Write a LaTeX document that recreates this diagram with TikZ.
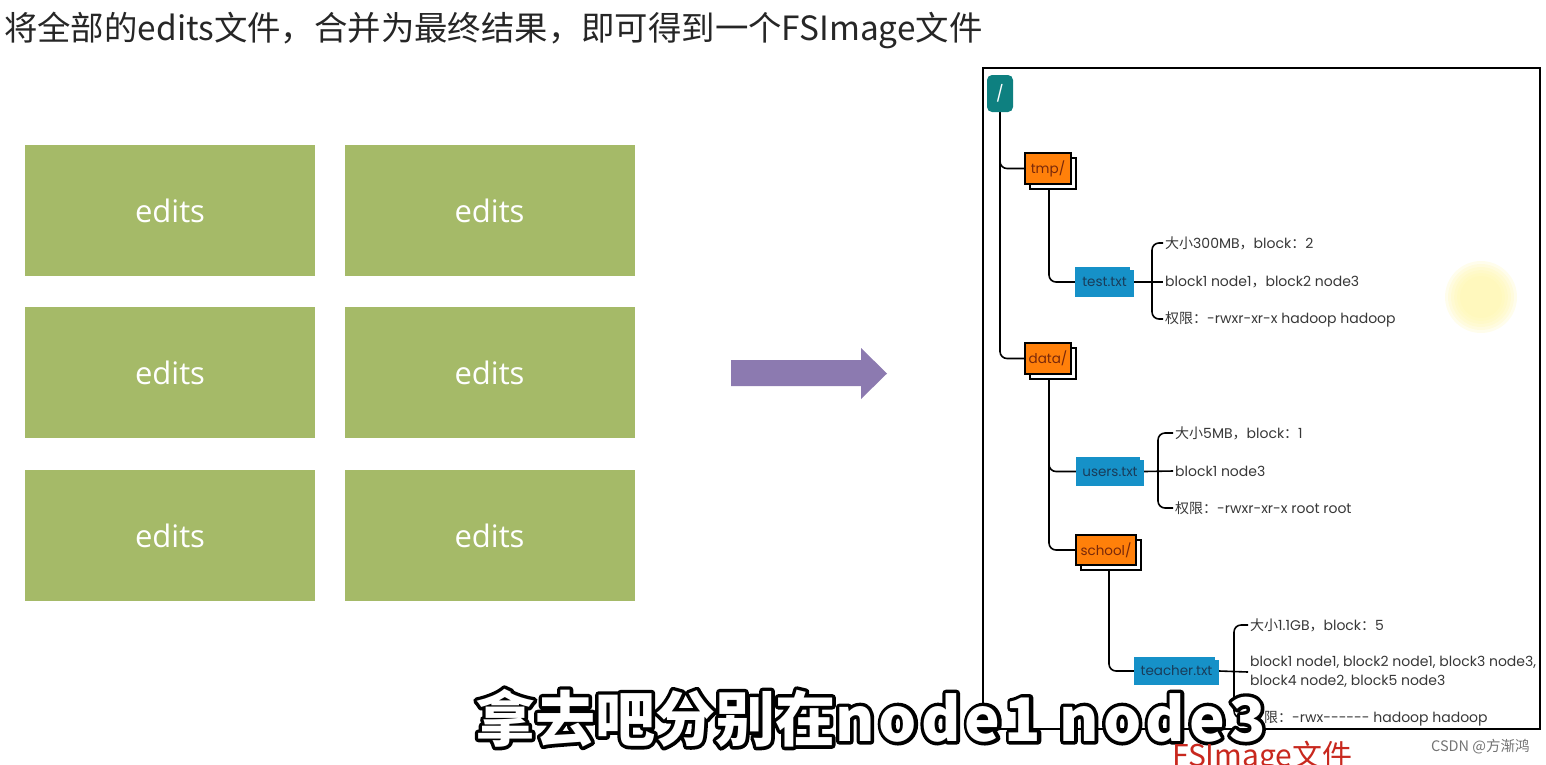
\documentclass[tikz,border=0pt]{standalone}
\usepackage{fontspec}
\usetikzlibrary{shadows,backgrounds}
\setmainfont{Noto Sans CJK SC}
\newfontfamily\cjk{Noto Sans CJK SC}
\newfontfamily\geo{Poppins}
\newfontfamily\osans{Open Sans}
\newcommand\zh[1]{{\cjk #1}}
\newcommand\strokeon{\special{pdf:literal direct 1 Tr 7 w 1 j 0 G}}
\newcommand\strokeoff{\special{pdf:literal direct 0 Tr}}
\newcommand\captext{{\cjk\bfseries\fontsize{60}{64}\selectfont 拿去吧分别在{\addfontfeature{LetterSpace=7}node1 node3}}}
\definecolor{editgreen}{RGB}{165,186,104}
\definecolor{arrowpurple}{RGB}{140,122,176}
\definecolor{folderorange}{RGB}{255,128,10}
\definecolor{foldertext}{RGB}{120,40,10}
\definecolor{fileblue}{RGB}{22,145,200}
\definecolor{filetext}{RGB}{25,60,90}
\definecolor{rootteal}{RGB}{14,128,128}
\definecolor{infotext}{RGB}{55,55,55}
\definecolor{fsred}{RGB}{200,40,30}
\definecolor{blobyellow}{RGB}{255,246,170}
\tikzset{
  editbox/.style={fill=editgreen, minimum width=290, minimum height=131, inner sep=0, text=white, font=\osans\fontsize{31}{36}\selectfont},
  tline/.style={line width=1.6pt, rounded corners=7pt},
  folder/.style={draw=black, line width=1.5pt, fill=folderorange, text=foldertext, inner xsep=2pt, inner ysep=0pt,
     font=\geo\fontsize{13.5}{15}\selectfont,
     copy shadow={shadow xshift=5pt, shadow yshift=-5pt, fill=white, draw=black, line width=1.5pt}},
  filebox/.style={fill=fileblue, text=filetext, inner xsep=2pt, inner ysep=0pt, font=\geo\fontsize{13.5}{15}\selectfont,
     path picture={\fill[white] (path picture bounding box.north east) rectangle ++(-4pt,-3pt);}},
  info/.style={anchor=west, inner xsep=2pt, inner ysep=1pt, text=infotext, font=\geo\fontsize{14}{19}\selectfont, align=left},
  blobring/.style={fill=blobyellow, fill opacity=0.22},
}
\begin{document}
\begin{tikzpicture}[x=1pt,y=-1pt]
\useasboundingbox (0,0) rectangle (1546,764);
\clip (0,0) rectangle (1546,764);

% title
\node[anchor=west, inner sep=0, font=\cjk\fontsize{33.4}{38}\selectfont, text=black!85] (title) at (4,30) {将全部的edits文件，合并为最终结果，即可得到一个FSImage文件};

% edits boxes
\node[editbox] (e1) at (170,210.5) {edits};
\node[editbox] (e2) at (489.5,210.5) {edits};
\node[editbox] (e3) at (170,372.5) {edits};
\node[editbox] (e4) at (489.5,372.5) {edits};
\node[editbox] (e5) at (170,535.5) {edits};
\node[editbox] (e6) at (489.5,535.5) {edits};

% big arrow
\fill[arrowpurple] (731,360) -- (861,360) -- (861,348) -- (887,373.5) -- (861,399) -- (861,386) -- (731,386) -- cycle;

% highlight blob
\foreach \r in {36,33,30,27,24,21} {\fill[blobring] (1481,297) circle (\r);}

% frame
\draw[line width=1.6pt] (983,68) rectangle (1540,729);

% tree nodes
\node[fill=rootteal, rounded corners=5pt, minimum width=26, minimum height=37, inner sep=0, text=white, font=\geo\fontsize{16}{18}\selectfont] (root) at (1000,93.5) {/};
\node[folder, minimum width=46, minimum height=31] (tmp) at (1048,168.5) {tmp/};
\node[filebox, minimum width=59, minimum height=30] (test) at (1104.5,282) {test.txt};
\node[folder, minimum width=46, minimum height=31] (data) at (1048,358.5) {data/};
\node[filebox, minimum width=68, minimum height=29] (users) at (1110,471.5) {users.txt};
\node[folder, minimum width=60, minimum height=30] (school) at (1106,550) {school/};
\node[filebox, minimum width=85, minimum height=28] (teacher) at (1176.5,671) {teacher.txt};

% info texts
\node[info] (t1) at (1163,243) {\zh{大小}300MB\zh{，}block\zh{：}2};
\node[info] (t2) at (1163,282) {block1 node1\zh{，}block2 node3};
\node[info] (t3) at (1163,319) {\zh{权限：}-rwxr-xr-x hadoop hadoop};
\node[info] (u1) at (1173,433) {\zh{大小}5MB\zh{，}block\zh{：}1};
\node[info] (u2) at (1173,471) {block1 node3};
\node[info] (u3) at (1173,508) {\zh{权限：}-rwxr-xr-x root root};
\node[info] (h1) at (1248,625) {\zh{大小}1.1GB\zh{，}block\zh{：}5};
\node[info] (h2) at (1248,672) {block1 node1, block2 node1, block3 node3,\\block4 node2, block5 node3};
\node[info] (h3) at (1248,718) {\zh{权限：}-rwx-{}-{}-{}-{}-{}- hadoop hadoop};

% spine coordinates
\coordinate (s1) at (1152,282);
\coordinate (s2) at (1158,471);
\coordinate (s3) at (1234,671);

% tree connectors
\begin{scope}[on background layer]
\draw[tline] (root.south) |- (tmp.west);
\draw[tline] (root.south) |- (data.west);
\draw[tline] ([xshift=1pt]tmp.south) |- (test.west);
\draw[tline] ([xshift=1pt]data.south) |- (users.west);
\draw[tline] ([xshift=1pt]data.south) |- (school.west);
\draw[tline] ([xshift=3pt]school.south) |- (teacher.west);
\draw[tline] (test.east) -- (t2.west);
\draw[tline] (t1.west) -| (s1) |- (t3.west);
\draw[tline] (users.east) -- (u2.west);
\draw[tline] (u1.west) -| (s2) |- (u3.west);
\draw[tline] (teacher.east) -- (h2.west);
\draw[tline] (h1.west) -| (s3) |- (h3.west);
\end{scope}

% caption overlay: black outline layer, then white fill
\node[anchor=west, inner sep=0, text=black] (capline) at (475,718) {\strokeon\captext\strokeoff};
\node[anchor=west, inner sep=0, text=white] (cap) at (475,718) {\captext};

% bottom texts
\node[anchor=base west, inner sep=0, text=fsred, font=\cjk\fontsize{30}{34}\selectfont] (fs) at (1172,766) {FSImage文件};
\node[anchor=west, inner sep=0, text=black!55, font=\cjk\fontsize{14.5}{17}\selectfont] (csdn) at (1431,747) {CSDN @方渐鸿};
\end{tikzpicture}
\end{document}
